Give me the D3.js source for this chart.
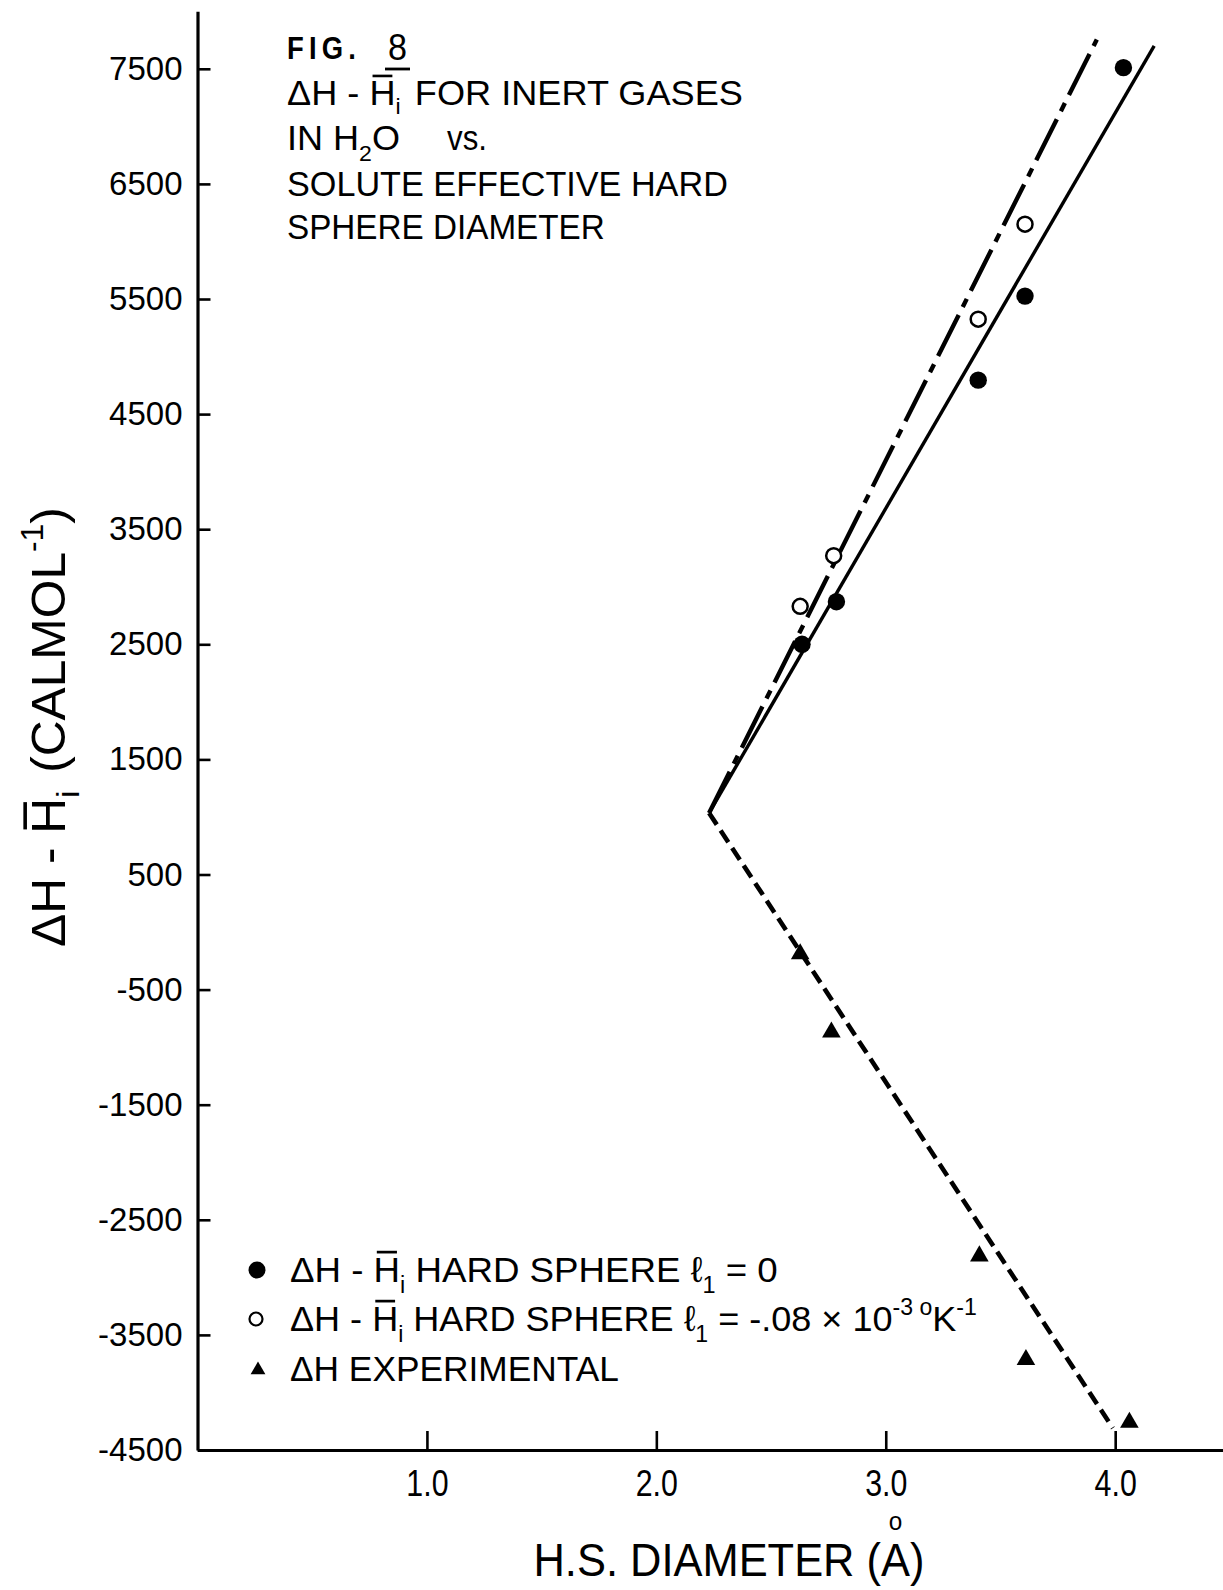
<!DOCTYPE html>
<html>
<head>
<meta charset="utf-8">
<script src="https://cdn.jsdelivr.net/npm/d3@7"></script>
<style>
  body { margin: 0; background: #fff; }
  svg { display: block; }
</style>
</head>
<body>
<script>
// Axis ticks
const yTicks = [-4500, -3500, -2500, -1500, -500, 500, 1500, 2500, 3500, 4500, 5500, 6500, 7500];
const xTicks = [1.0, 2.0, 3.0, 4.0];

// Hard sphere estimate, l1 = 0 (filled circles): He, Ne, Ar, Kr, Xe
const diamL0 = [2.635, 2.785, 3.403, 3.607, 4.036];
const dHL0   = [2500, 2870, 4795, 5525, 7510];

// Hard sphere estimate, l1 = -.08e-3 /K (open circles): He, Ne, Ar, Kr
const diamL1 = [2.627, 2.773, 3.403, 3.607];
const dHL1   = [2830, 3270, 5325, 6150];

// Experimental enthalpy of solution (triangles): He, Ne, Ar, Kr, Xe
const diamExp = [2.627, 2.763, 3.408, 3.611, 4.062];
const dHExp   = [-190, -870, -2815, -3715, -4260];

// Straight-line fits, all meeting at a common vertex
const fitL0  = [[2.23, 1035], [4.17, 7700]];   // solid
const fitL1  = [[2.23, 1035], [3.92, 7755]];   // dash-dot
const fitExp = [[2.23, 1035], [3.99, -4310]];  // dashed

const FONT = "'Liberation Sans', Arial, Helvetica, sans-serif";
const W = 1223, H = 1590;

const svg = d3.select("body").append("svg")
  .attr("width", W).attr("height", H)
  .attr("font-family", FONT);

svg.append("rect").attr("width", W).attr("height", H).attr("fill", "#fff");

const x = d3.scaleLinear().domain([0, 4.47]).range([197.5, 1223]);
const y = d3.scaleLinear().domain([-4500, 8000]).range([1450, 11.25]);

// Text made of runs (subscripts, superscripts, over-barred letters),
// stretched horizontally to a given width.
function richText(parent, o) {
  const g = parent.append("g");
  const t = g.append("text")
    .attr("font-size", o.size)
    .attr("font-weight", o.weight || "normal")
    .attr("letter-spacing", o.spacing || 0)
    .attr("fill", "#000");
  const subShift = o.subShift || 0.3;
  let offset = 0, idx = 0;
  const bars = [], rings = [];
  o.parts.forEach(p => {
    const part = typeof p === "string" ? { t: p } : p;
    const shift = part.sub ? o.size * subShift : part.sup ? -o.size * 0.45 : 0;
    const ts = t.append("tspan").text(part.t).attr("dy", shift - offset);
    if (part.sub || part.sup) ts.attr("font-size", o.size * 0.64);
    if (part.dx) ts.attr("dx", part.dx);
    if (part.bar) bars.push(idx);
    if (part.ring) rings.push(idx);
    offset = shift;
    idx += part.t.length;
  });
  const b = t.node().getBBox();
  const len = b.x + b.width;
  const sx = o.width ? o.width / len : 1;
  bars.forEach(i => {
    const e = t.node().getExtentOfChar(i);
    g.append("line")
      .attr("x1", e.x + e.width * 0.12).attr("x2", e.x + e.width * 0.88)
      .attr("y1", -o.size * 0.83).attr("y2", -o.size * 0.83)
      .attr("stroke", "#000").attr("stroke-width", o.size * 0.075);
  });
  rings.forEach(i => {
    const e = t.node().getExtentOfChar(i);
    g.append("text")
      .attr("x", e.x + e.width / 2).attr("y", -o.size * 0.98)
      .attr("text-anchor", "middle")
      .attr("font-size", o.size * 0.56)
      .attr("fill", "#000")
      .text("o");
  });
  const shiftX = o.anchor === "middle" ? -len / 2 : o.anchor === "end" ? -len : 0;
  g.attr("transform",
    `translate(${o.x},${o.y}) rotate(${o.rotate || 0}) scale(${sx},1) translate(${shiftX},0)`);
  return g;
}

// ---- Axes ----
const yAxis = svg.append("g")
  .attr("transform", `translate(${x(0)},0)`)
  .call(d3.axisLeft(y)
    .tickValues(yTicks)
    .tickFormat(d => String(d))
    .tickSizeInner(-13)
    .tickSizeOuter(0)
    .tickPadding(15));
yAxis.select(".domain").attr("stroke", "#000").attr("stroke-width", 3.2);
yAxis.selectAll(".tick line").attr("stroke", "#000").attr("stroke-width", 2.6);
yAxis.selectAll(".tick text")
  .attr("font-family", FONT).attr("font-size", 33).attr("fill", "#000");

const xAxis = svg.append("g")
  .attr("transform", `translate(0,${y(-4500)})`)
  .call(d3.axisBottom(x)
    .tickValues(xTicks)
    .tickFormat(d3.format(".1f"))
    .tickSizeInner(-19)
    .tickSizeOuter(0)
    .tickPadding(20));
xAxis.select(".domain").attr("stroke", "#000").attr("stroke-width", 3.2);
xAxis.selectAll(".tick line").attr("stroke", "#000").attr("stroke-width", 2.6);
xAxis.selectAll(".tick text")
  .attr("font-family", FONT).attr("font-size", 37).attr("fill", "#000")
  .attr("transform", "scale(0.82,1)");

// ---- Fitted lines ----
const line = d3.line().x(d => x(d[0])).y(d => y(d[1]));

svg.append("path").datum(fitL0)
  .attr("d", line).attr("fill", "none")
  .attr("stroke", "#000").attr("stroke-width", 3.4);

svg.append("path").datum(fitL1)
  .attr("d", line).attr("fill", "none")
  .attr("stroke", "#000").attr("stroke-width", 4.4)
  .attr("stroke-dasharray", "46,9,9,9");

svg.append("path").datum(fitExp)
  .attr("d", line).attr("fill", "none")
  .attr("stroke", "#000").attr("stroke-width", 4.6)
  .attr("stroke-dasharray", "14,7");

// ---- Points ----
const pts = svg.append("g");

pts.selectAll("circle.l0")
  .data(d3.zip(diamL0, dHL0)).join("circle")
  .attr("class", "l0")
  .attr("cx", d => x(d[0])).attr("cy", d => y(d[1]))
  .attr("r", 8.7).attr("fill", "#000");

pts.selectAll("circle.l1")
  .data(d3.zip(diamL1, dHL1)).join("circle")
  .attr("class", "l1")
  .attr("cx", d => x(d[0])).attr("cy", d => y(d[1]))
  .attr("r", 7.5).attr("fill", "#fff")
  .attr("stroke", "#000").attr("stroke-width", 2.5);

const tri = d3.symbol().type(d3.symbolTriangle).size(150);
pts.selectAll("path.exp")
  .data(d3.zip(diamExp, dHExp)).join("path")
  .attr("class", "exp")
  .attr("d", tri)
  .attr("transform", d => `translate(${x(d[0])},${y(d[1])})`)
  .attr("fill", "#000");

// ---- Title block ----
const title = svg.append("g");
richText(title, { x: 287, y: 59, size: 32, weight: "bold", spacing: 6,
  parts: ["FIG."], width: 74 });
richText(title, { x: 388, y: 60, size: 37, parts: ["8"], width: 19 });
title.append("line")
  .attr("x1", 385).attr("x2", 410).attr("y1", 69).attr("y2", 69)
  .attr("stroke", "#000").attr("stroke-width", 2.8);

richText(title, { x: 287, y: 105, size: 35, width: 456, subShift: 0.26,
  parts: ["\u0394H - ", { t: "H", bar: true }, { t: "i", sub: true }, { t: " FOR INERT GASES", dx: 4 }] });
richText(title, { x: 287, y: 150, size: 35, width: 113,
  parts: ["IN H", { t: "2", sub: true }, "O"] });
richText(title, { x: 447, y: 150, size: 35, width: 40, parts: ["vs."] });
richText(title, { x: 287, y: 196, size: 35, width: 441,
  parts: ["SOLUTE EFFECTIVE HARD"] });
richText(title, { x: 287, y: 239, size: 35, width: 318,
  parts: ["SPHERE DIAMETER"] });

// ---- Axis titles ----
richText(svg, { x: 65, y: 727, size: 48, rotate: -90, anchor: "middle", width: 440,
  parts: ["\u0394H - ", { t: "H", bar: true }, { t: "i", sub: true },
          { t: " (CALMOL", dx: 4 }, { t: "-1", sup: true }, ")"] });

richText(svg, { x: 729, y: 1576, size: 47, anchor: "middle", width: 391,
  parts: ["H.S. DIAMETER (", { t: "A", ring: true }, ")"] });

// ---- Legend ----
const legend = svg.append("g");
legend.append("circle").attr("cx", 257).attr("cy", 1270).attr("r", 8.5).attr("fill", "#000");
legend.append("circle").attr("cx", 256).attr("cy", 1319).attr("r", 6.5)
  .attr("fill", "#fff").attr("stroke", "#000").attr("stroke-width", 2.2);
legend.append("path")
  .attr("d", d3.symbol().type(d3.symbolTriangle).size(95))
  .attr("transform", "translate(258,1370)").attr("fill", "#000");

richText(legend, { x: 290, y: 1282, size: 36, width: 488,
  parts: ["\u0394H - ", { t: "H", bar: true }, { t: "i", sub: true },
          " HARD SPHERE \u2113", { t: "1", sub: true }, " = 0"] });
richText(legend, { x: 290, y: 1331, size: 36, width: 687,
  parts: ["\u0394H - ", { t: "H", bar: true }, { t: "i", sub: true },
          " HARD SPHERE \u2113", { t: "1", sub: true }, " = -.08 \u00d7 10",
          { t: "-3", sup: true }, { t: " o", sup: true }, "K", { t: "-1", sup: true }] });
richText(legend, { x: 290, y: 1381, size: 36, width: 329,
  parts: ["\u0394H EXPERIMENTAL"] });
</script>
</body>
</html>
